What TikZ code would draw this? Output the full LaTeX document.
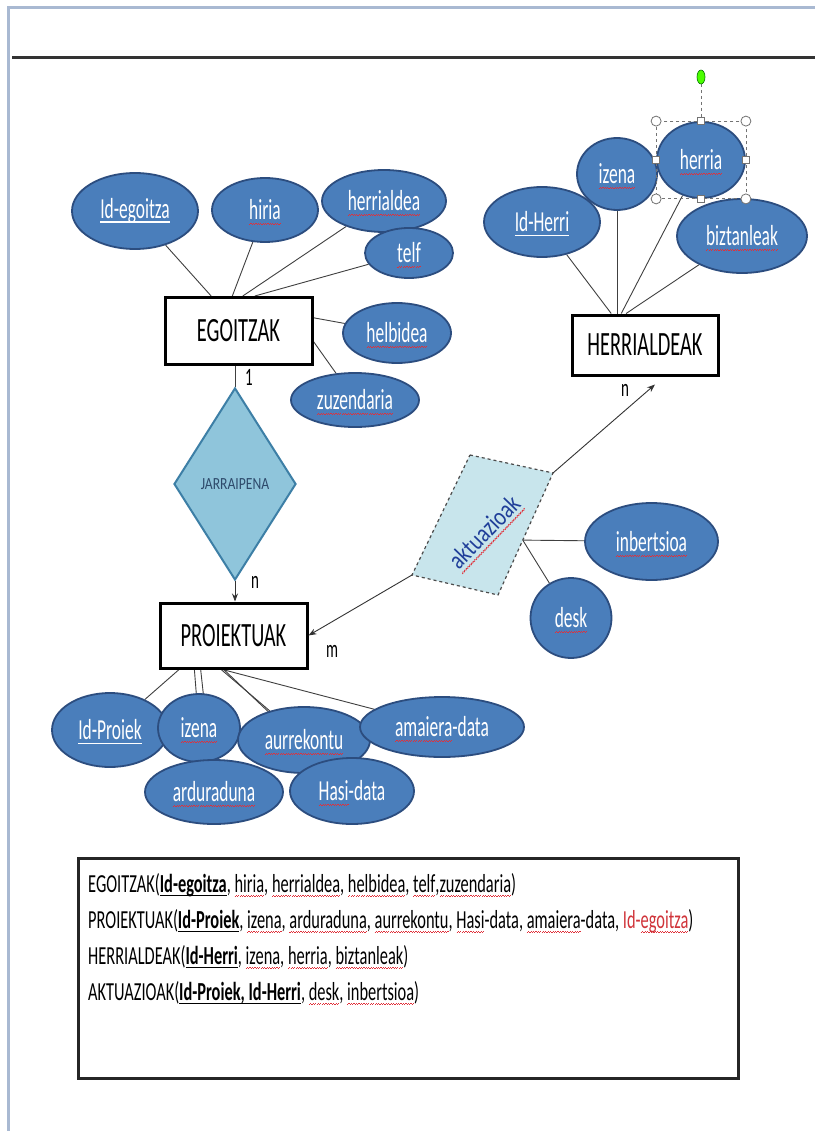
\documentclass[tikz,border=0pt]{standalone}
\usepackage{fontspec}
\usetikzlibrary{shapes.geometric,arrows.meta,calc}
\setmainfont{Carlito}
\newfontfamily\cf{Carlito}[FakeStretch=0.6]
\newfontfamily\cfr{Carlito}[FakeStretch=0.63]
\newfontfamily\cfw{Carlito}[FakeStretch=0.8]
\definecolor{attfill}{HTML}{4A7EBB}
\definecolor{attborder}{HTML}{2C4D7F}
\definecolor{relfill}{HTML}{8FC5DB}
\definecolor{relborder}{HTML}{3D7FA6}
\definecolor{aktfill}{HTML}{C8E5EC}
\definecolor{wavered}{HTML}{E0303A}
\definecolor{framecol}{HTML}{A9B9D2}
\definecolor{akttext}{HTML}{1F3E99}
\definecolor{reltext}{HTML}{2E4A6B}
\definecolor{fkred}{HTML}{D0343A}
\newsavebox\wvbox
\newsavebox\kbox
\newcommand\wavepiece{\hbox{\rule{1.2pt}{0.9pt}\raisebox{0.8pt}{\rule{1.2pt}{0.9pt}}}}
\newcommand\wv[1]{\leavevmode\sbox\wvbox{#1}\rlap{\raisebox{-5pt}[0pt][0pt]{\textcolor{wavered}{\hbox to \wd\wvbox{\xleaders\wavepiece\hfill}}}}\usebox\wvbox}
\newcommand\keyul[1]{\leavevmode\sbox\kbox{#1}\rlap{\raisebox{-4.4pt}[0pt][0pt]{\rule{\wd\kbox}{1.6pt}}}\usebox\kbox}
\pgfdeclarelayer{background}
\pgfsetlayers{background,main}
\tikzset{
  ent/.style={draw=black, line width=3pt, fill=white, inner sep=0pt, font=\cf\fontsize{34}{34}\selectfont},
  att/.style={ellipse, draw=attborder, line width=1.8pt, fill=attfill, text=white, inner sep=0pt, font=\cf\fontsize{29}{29}\selectfont},
  rel/.style={diamond, draw=relborder, line width=2pt, fill=relfill, inner sep=0pt, text=reltext, font=\cfw\fontsize{17}{17}\selectfont},
  conn/.style={draw=black!75, line width=0.9pt},
  arr/.style={draw=black!80, line width=0.9pt, -{Stealth[length=8pt,width=6pt]}},
  card/.style={font=\cf\fontsize{25}{25}\selectfont, inner sep=0pt},
  row/.style={anchor=base west, inner sep=0pt, font=\cfr\fontsize{26}{26}\selectfont},
  handle/.style={fill=white, draw=black!55, line width=0.8pt}
}
\begin{document}
\begin{tikzpicture}[x=1pt,y=-1pt]
\useasboundingbox (0,0) rectangle (815,1131);
\begin{pgfonlayer}{background}
\fill[white] (0,0) rectangle (815,1131);
\end{pgfonlayer}
% window frame and top rule
\draw[framecol, line width=3pt] (8,1131) -- (8,8) -- (815,8);
\draw[black!80, line width=3pt] (12,58) -- (815,58);

% entities
\node[ent, minimum width=147pt, minimum height=67pt] (ego) at (238.5,331) {EGOITZAK};
\node[ent, minimum width=146pt, minimum height=60pt] (her) at (645,345) {HERRIALDEAK};
\node[ent, minimum width=147pt, minimum height=65pt] (proj) at (233.5,635.5) {PROIEKTUAK};

% relationship diamond
\node[rel, minimum width=122pt, minimum height=192pt] (jar) at (235,484) {JARRAIPENA};

% aktuazioak parallelogram
\coordinate (a1) at (470,455);
\coordinate (a2) at (553,473);
\coordinate (a3) at (498,595);
\coordinate (a4) at (412,575);
\coordinate (ar) at ($(a2)!0.55!(a3)$);
\filldraw[fill=aktfill, draw=black!70, dashed, line width=1.2pt] (a1) -- (a2) -- (a3) -- (a4) -- cycle;
\node[rotate=46, text=akttext, font=\cfw\fontsize{26}{26}\selectfont, inner sep=0pt] (akt) at (484,532) {\wv{aktuazioak}};

% EGOITZAK attributes
\node[att, minimum width=126pt, minimum height=76pt] (ide) at (135,211) {\keyul{Id-egoitza}};
\node[att, minimum width=106pt, minimum height=64pt] (hiria) at (265,210) {\wv{hiria}};
\node[att, minimum width=124pt, minimum height=62pt] (herd) at (384,201) {\wv{herrialdea}};
\node[att, minimum width=88pt, minimum height=50pt] (telf) at (409,253) {\wv{telf}};
\node[att, minimum width=108pt, minimum height=60pt] (helb) at (397,333) {\wv{helbidea}};
\node[att, minimum width=128pt, minimum height=54pt] (zuz) at (355,400) {\wv{zuzendaria}};

% HERRIALDEAK attributes
\node[att, minimum width=116pt, minimum height=70pt] (idh) at (542,222) {\keyul{Id-Herri}};
\node[att, minimum width=80pt, minimum height=72pt] (izh) at (617,174) {\wv{izena}};
\node[att, minimum width=88pt, minimum height=76pt] (herria) at (701,160) {\wv{herria}};
\node[att, minimum width=130pt, minimum height=74pt] (biz) at (742,236) {\wv{biztanleak}};

% selection handles around herria
\draw[black!55, dashed, line width=0.8pt] (herria.west |- herria.north) rectangle (herria.east |- herria.south);
\draw[black!55, dashed, line width=0.8pt] (701,84) -- (herria.north);
\filldraw[fill=green!60!lime, draw=green!45!black, line width=0.6pt] (701,77) ellipse (4pt and 7pt);
\foreach \c in {herria.west |- herria.north, herria.east |- herria.north, herria.west |- herria.south, herria.east |- herria.south}
  \filldraw[handle] (\c) circle (5pt);
\foreach \c in {herria.north, herria.south, herria.west, herria.east}
  \filldraw[handle] ($(\c)+(-3.5,-3.5)$) rectangle +(7,7);

% aktuazioak attributes
\node[att, minimum width=133pt, minimum height=77pt] (inb) at (651.5,541.5) {\wv{inbertsioa}};
\node[att, minimum width=81pt, minimum height=80pt] (desk) at (571,618) {\wv{desk}};

% PROIEKTUAK attributes
\node[att, minimum width=116pt, minimum height=74pt] (idp) at (110,730) {\keyul{Id-Proiek}};
\node[att, minimum width=82pt, minimum height=68pt] (izp) at (199,728) {\wv{izena}};
\node[att, minimum width=132pt, minimum height=66pt] (aur) at (304,740) {\wv{aurrekontu}};
\node[att, minimum width=164pt, minimum height=60pt] (ama) at (442,727) {\wv{amaiera}-data};
\node[att, minimum width=138pt, minimum height=64pt] (ard) at (214,792) {\wv{arduraduna}};
\node[att, minimum width=124pt, minimum height=66pt] (hasi) at (352,791) {\wv{Hasi}-data};

% connectors (behind the shapes)
\begin{pgfonlayer}{background}
\draw[conn] (ide) -- (ego.128);
\draw[conn] (hiria) -- (ego.100);
\draw[conn] (herd) -- (ego.83);
\draw[conn] (telf) -- (ego.65);
\draw[conn] (helb) -- (ego.10);
\draw[conn] (zuz) -- (ego.-8);
\draw[conn] (idh) -- (her.137);
\draw[conn] (izh) -- (izh |- her.north);
\draw[conn] (herria) -- (her.127);
\draw[conn] (biz) -- (her.121);
\draw[conn] (ar) -- (inb);
\draw[conn] (ar) -- (desk);
\draw[conn] (idp) -- (proj.212);
\draw[conn] (izp) -- (proj.221);
\draw[conn] (ard) -- (proj.226);
\draw[conn] (aur) -- (proj.250);
\draw[conn] (ama) -- (proj.252);
\draw[conn] (hasi) -- (proj.254);
\draw[conn] (jar.north) -- (jar.north |- ego.south);
\end{pgfonlayer}

% relationship arrows
\coordinate (hertip) at ($(her.south)+(10,8)$);
\draw[arr] (jar.south) -- (jar.south |- proj.north);
\draw[arr] (a2) -- (hertip);
\draw[arr] (a4) -- (proj.east);

% cardinalities
\node[card] (c1) at (249,377) {1};
\node[card] (c2) at (255,582) {n};
\node[card] (c3) at (332,651) {m};
\node[card] (c4) at (625,390) {n};

% relational schema box
\node[draw=black!85, line width=3pt, minimum width=660pt, minimum height=220pt, inner sep=0pt] (box) at (408,968) {};
\node[row] (r1) at (88,892) {EGOITZAK(\keyul{\textbf{Id-egoitza}}, \wv{hiria}, \wv{herrialdea}, \wv{helbidea}, \wv{telf},\wv{zuzendaria})};
\node[row] (r2) at (88,928) {PROIEKTUAK(\keyul{\textbf{Id-Proiek}}, \wv{izena}, \wv{arduraduna}, \wv{aurrekontu}, \wv{Hasi}-data, \wv{amaiera}-data, \textcolor{fkred}{Id-\wv{egoitza}})};
\node[row] (r3) at (88,964) {HERRIALDEAK(\keyul{\textbf{Id-Herri}}, \wv{izena}, \wv{herria}, \wv{biztanleak})};
\node[row] (r4) at (88,1000) {AKTUAZIOAK(\keyul{\textbf{Id-Proiek, Id-Herri}}, \wv{desk}, \wv{inbertsioa})};
\end{tikzpicture}
\end{document}
